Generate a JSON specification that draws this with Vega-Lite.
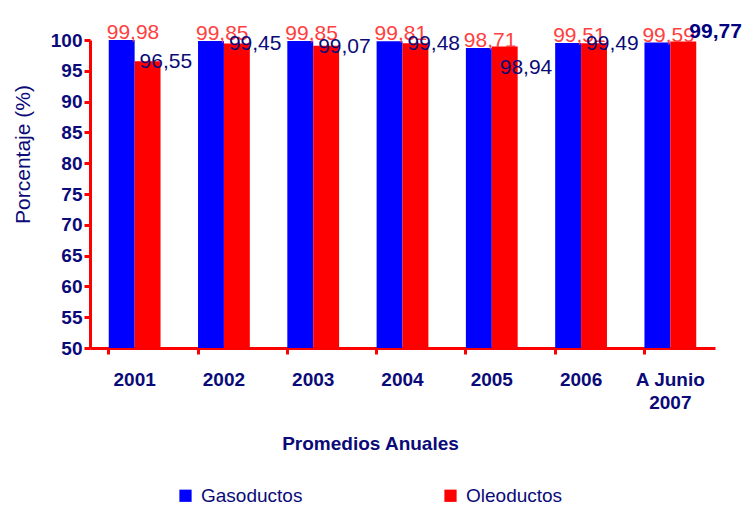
{
  "$schema": "https://vega.github.io/schema/vega-lite/v6.json",
  "autosize": "none",
  "width": 625,
  "height": 308,
  "padding": {"left": 90, "top": 40, "right": 27, "bottom": 158},
  "background": "white",
  "config": {
    "view": {"stroke": null},
    "font": "Liberation Sans",
    "locale": {"number": {"decimal": ",", "thousands": ".", "grouping": [3], "currency": ["", ""]}}
  },
  "data": {
    "values": [
      {"year": "2001", "series": "Gasoductos", "value": 99.98},
      {"year": "2001", "series": "Oleoductos", "value": 96.55},
      {"year": "2002", "series": "Gasoductos", "value": 99.85},
      {"year": "2002", "series": "Oleoductos", "value": 99.45},
      {"year": "2003", "series": "Gasoductos", "value": 99.85},
      {"year": "2003", "series": "Oleoductos", "value": 99.07},
      {"year": "2004", "series": "Gasoductos", "value": 99.81},
      {"year": "2004", "series": "Oleoductos", "value": 99.48},
      {"year": "2005", "series": "Gasoductos", "value": 98.71},
      {"year": "2005", "series": "Oleoductos", "value": 98.94},
      {"year": "2006", "series": "Gasoductos", "value": 99.51},
      {"year": "2006", "series": "Oleoductos", "value": 99.49},
      {"year": "A Junio 2007", "series": "Gasoductos", "value": 99.59},
      {"year": "A Junio 2007", "series": "Oleoductos", "value": 99.77}
    ]
  },
  "encoding": {
    "x": {
      "field": "year", "type": "nominal", "sort": null,
      "scale": {"paddingInner": 0.42, "paddingOuter": 0.21},
      "axis": {
        "title": "Promedios Anuales",
        "titleFont": "Liberation Sans", "titleFontSize": 19, "titleFontWeight": "bold", "titleColor": "#0a0a78",
        "titleX": 280, "titleY": 95, "titleBaseline": "middle",
        "labelAngle": 0, "labelFontSize": 19, "labelFontWeight": "bold", "labelColor": "#0a0a78",
        "labelPadding": 16, "labelLineHeight": 23,
        "labelExpr": "datum.label == 'A Junio 2007' ? ['A Junio', '2007'] : datum.label",
        "domainColor": "#ff0000", "domainWidth": 3,
        "tickColor": "#ff0000", "tickWidth": 3, "tickSize": 6, "bandPosition": 0
      }
    },
    "xOffset": {"field": "series", "type": "nominal"},
    "y": {
      "field": "value", "type": "quantitative",
      "scale": {"domain": [50, 100], "zero": false, "nice": false},
      "axis": {
        "title": "Porcentaje (%)",
        "titleFontSize": 21, "titleFontWeight": "normal", "titleColor": "#0a0a78",
        "titlePadding": 17, "titleY": 114,
        "values": [50, 55, 60, 65, 70, 75, 80, 85, 90, 95, 100],
        "labelFontSize": 19, "labelFontWeight": "bold", "labelColor": "#0a0a78", "labelPadding": 2,
        "domainColor": "#ff0000", "domainWidth": 3,
        "tickColor": "#ff0000", "tickWidth": 3, "tickSize": 6, "grid": false
      }
    }
  },
  "layer": [
    {
      "mark": {"type": "bar"},
      "encoding": {
        "y2": {"datum": 50},
        "color": {
          "field": "series", "type": "nominal",
          "scale": {"domain": ["Gasoductos", "Oleoductos"], "range": ["#0000ff", "#ff0000"]},
          "legend": {
            "title": null, "orient": "none", "legendX": 86, "legendY": 446, "direction": "horizontal",
            "symbolType": "square", "symbolSize": 150, "symbolStrokeWidth": 0,
            "labelFontSize": 19, "labelColor": "#0a0a78", "labelOffset": 6,
            "columnPadding": 138
          }
        }
      }
    },
    {
      "transform": [{"filter": "datum.series == 'Gasoductos'"}],
      "mark": {"type": "text", "align": "left", "baseline": "bottom", "dx": -15, "dy": 3, "fontSize": 21, "color": "#ff4040"},
      "encoding": {"text": {"field": "value", "type": "quantitative", "format": ".2f"}}
    },
    {
      "transform": [{"filter": "datum.series == 'Oleoductos' && datum.year != '2005' && datum.year != 'A Junio 2007'"}],
      "mark": {"type": "text", "align": "left", "baseline": "middle", "dx": -8, "dy": 1, "fontSize": 21, "color": "#0a0a78"},
      "encoding": {"text": {"field": "value", "type": "quantitative", "format": ".2f"}}
    },
    {
      "transform": [{"filter": "datum.series == 'Oleoductos' && datum.year == '2005'"}],
      "mark": {"type": "text", "align": "left", "baseline": "middle", "dx": -5, "dy": 21, "fontSize": 21, "color": "#0a0a78"},
      "encoding": {"text": {"field": "value", "type": "quantitative", "format": ".2f"}}
    },
    {
      "transform": [{"filter": "datum.series == 'Oleoductos' && datum.year == 'A Junio 2007'"}],
      "mark": {"type": "text", "align": "left", "baseline": "middle", "dx": 6, "dy": -9, "fontSize": 21, "fontWeight": "bold", "color": "#000080"},
      "encoding": {"text": {"field": "value", "type": "quantitative", "format": ".2f"}}
    }
  ]
}
